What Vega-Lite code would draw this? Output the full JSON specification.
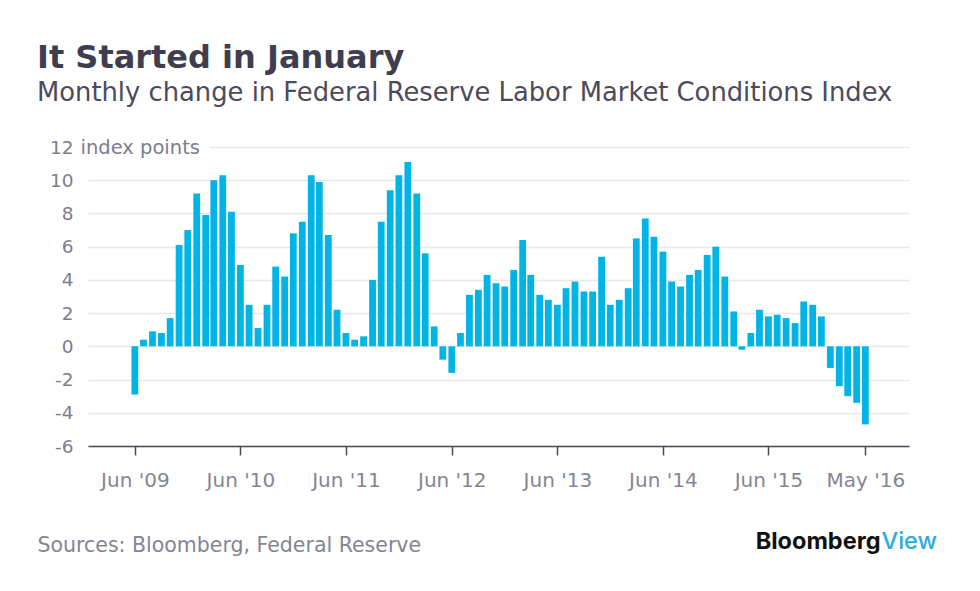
{
  "$schema": "https://vega.github.io/schema/vega-lite/v6.json",
  "width": 821,
  "height": 299,
  "autosize": {"type": "none"},
  "padding": {"left": 88, "top": 147, "right": 71, "bottom": 145},
  "background": "white",
  "config": {"view": {"stroke": null}},
  "title": {
    "text": "It Started in January",
    "subtitle": "Monthly change in Federal Reserve Labor Market Conditions Index",
    "anchor": "start",
    "frame": "group",
    "dx": -51,
    "offset": 30,
    "font": "DejaVu Sans",
    "fontSize": 32,
    "fontWeight": 700,
    "color": "#3e3e4e",
    "subtitleFont": "DejaVu Sans",
    "subtitleFontSize": 25.8,
    "subtitleColor": "#4b4b5b",
    "subtitlePadding": 6
  },
  "data": {"values": [
    {"month": "2009/06/01", "value": -2.9},
    {"month": "2009/07/01", "value": 0.4},
    {"month": "2009/08/01", "value": 0.9},
    {"month": "2009/09/01", "value": 0.8},
    {"month": "2009/10/01", "value": 1.7},
    {"month": "2009/11/01", "value": 6.1},
    {"month": "2009/12/01", "value": 7.0},
    {"month": "2010/01/01", "value": 9.2},
    {"month": "2010/02/01", "value": 7.9},
    {"month": "2010/03/01", "value": 10.0},
    {"month": "2010/04/01", "value": 10.3},
    {"month": "2010/05/01", "value": 8.1},
    {"month": "2010/06/01", "value": 4.9},
    {"month": "2010/07/01", "value": 2.5},
    {"month": "2010/08/01", "value": 1.1},
    {"month": "2010/09/01", "value": 2.5},
    {"month": "2010/10/01", "value": 4.8},
    {"month": "2010/11/01", "value": 4.2},
    {"month": "2010/12/01", "value": 6.8},
    {"month": "2011/01/01", "value": 7.5},
    {"month": "2011/02/01", "value": 10.3},
    {"month": "2011/03/01", "value": 9.9},
    {"month": "2011/04/01", "value": 6.7},
    {"month": "2011/05/01", "value": 2.2},
    {"month": "2011/06/01", "value": 0.8},
    {"month": "2011/07/01", "value": 0.4},
    {"month": "2011/08/01", "value": 0.6},
    {"month": "2011/09/01", "value": 4.0},
    {"month": "2011/10/01", "value": 7.5},
    {"month": "2011/11/01", "value": 9.4},
    {"month": "2011/12/01", "value": 10.3},
    {"month": "2012/01/01", "value": 11.1},
    {"month": "2012/02/01", "value": 9.2},
    {"month": "2012/03/01", "value": 5.6},
    {"month": "2012/04/01", "value": 1.2},
    {"month": "2012/05/01", "value": -0.8},
    {"month": "2012/06/01", "value": -1.6},
    {"month": "2012/07/01", "value": 0.8},
    {"month": "2012/08/01", "value": 3.1},
    {"month": "2012/09/01", "value": 3.4},
    {"month": "2012/10/01", "value": 4.3},
    {"month": "2012/11/01", "value": 3.8},
    {"month": "2012/12/01", "value": 3.6},
    {"month": "2013/01/01", "value": 4.6},
    {"month": "2013/02/01", "value": 6.4},
    {"month": "2013/03/01", "value": 4.3},
    {"month": "2013/04/01", "value": 3.1},
    {"month": "2013/05/01", "value": 2.8},
    {"month": "2013/06/01", "value": 2.5},
    {"month": "2013/07/01", "value": 3.5},
    {"month": "2013/08/01", "value": 3.9},
    {"month": "2013/09/01", "value": 3.3},
    {"month": "2013/10/01", "value": 3.3},
    {"month": "2013/11/01", "value": 5.4},
    {"month": "2013/12/01", "value": 2.5},
    {"month": "2014/01/01", "value": 2.8},
    {"month": "2014/02/01", "value": 3.5},
    {"month": "2014/03/01", "value": 6.5},
    {"month": "2014/04/01", "value": 7.7},
    {"month": "2014/05/01", "value": 6.6},
    {"month": "2014/06/01", "value": 5.7},
    {"month": "2014/07/01", "value": 3.9},
    {"month": "2014/08/01", "value": 3.6},
    {"month": "2014/09/01", "value": 4.3},
    {"month": "2014/10/01", "value": 4.6},
    {"month": "2014/11/01", "value": 5.5},
    {"month": "2014/12/01", "value": 6.0},
    {"month": "2015/01/01", "value": 4.2},
    {"month": "2015/02/01", "value": 2.1},
    {"month": "2015/03/01", "value": -0.2},
    {"month": "2015/04/01", "value": 0.8},
    {"month": "2015/05/01", "value": 2.2},
    {"month": "2015/06/01", "value": 1.8},
    {"month": "2015/07/01", "value": 1.9},
    {"month": "2015/08/01", "value": 1.7},
    {"month": "2015/09/01", "value": 1.4},
    {"month": "2015/10/01", "value": 2.7},
    {"month": "2015/11/01", "value": 2.5},
    {"month": "2015/12/01", "value": 1.8},
    {"month": "2016/01/01", "value": -1.3},
    {"month": "2016/02/01", "value": -2.4},
    {"month": "2016/03/01", "value": -3.0},
    {"month": "2016/04/01", "value": -3.4},
    {"month": "2016/05/01", "value": -4.7}
  ]},
  "layer": [
    {
      "mark": {"type": "bar", "width": 6.8, "color": "#00b4e6"},
      "encoding": {
        "x": {
          "field": "month",
          "type": "temporal",
          "scale": {"domain": [{"year": 2008, "month": 12, "date": 21}, {"year": 2016, "month": 9, "date": 29}], "padding": 0},
          "axis": {
            "values": [
              {"year": 2009, "month": 6, "date": 1},
              {"year": 2010, "month": 6, "date": 1},
              {"year": 2011, "month": 6, "date": 1},
              {"year": 2012, "month": 6, "date": 1},
              {"year": 2013, "month": 6, "date": 1},
              {"year": 2014, "month": 6, "date": 1},
              {"year": 2015, "month": 6, "date": 1},
              {"year": 2016, "month": 5, "date": 1}
            ],
            "labelExpr": "timeFormat(datum.value, \"%b '%y\")",
            "labelFlush": false,
            "labelFont": "DejaVu Sans",
            "labelFontSize": 20,
            "labelColor": "#858595",
            "labelPadding": 15,
            "tickSize": 9,
            "tickColor": "#4a4a5a",
            "tickWidth": 1.5,
            "domainColor": "#4a4a5a",
            "domainWidth": 1.5,
            "grid": false,
            "title": "Sources: Bloomberg, Federal Reserve",
            "titleX": -51,
            "titleY": 105,
            "titleAlign": "left",
            "titleBaseline": "alphabetic",
            "titleFont": "DejaVu Sans",
            "titleFontSize": 20.5,
            "titleFontWeight": 400,
            "titleColor": "#858595"
          }
        },
        "y": {
          "field": "value",
          "type": "quantitative",
          "scale": {"domain": [-6, 12], "nice": false, "padding": 0},
          "axis": {
            "values": [-6, -4, -2, 0, 2, 4, 6, 8, 10, 12],
            "labelExpr": "replace(datum.label, '\u2212', '-')",
            "labelFont": "DejaVu Sans",
            "labelFontSize": 18.5,
            "labelColor": "#7d7d8d",
            "labelPadding": 15,
            "labelAlign": "right",
            "labelBaseline": "middle",
            "ticks": false,
            "domain": false,
            "grid": true,
            "gridColor": "#e8e8ec",
            "gridWidth": 1.5,
            "gridDash": {"condition": {"test": "datum.value === 12", "value": [0, 121, 1000]}, "value": []},
            "title": "index points",
            "titleAngle": 0,
            "titleAlign": "left",
            "titleBaseline": "middle",
            "titleX": -8,
            "titleY": 0,
            "titleFont": "DejaVu Sans",
            "titleFontSize": 19.5,
            "titleFontWeight": 400,
            "titleColor": "#7d7d8d"
          }
        }
      }
    },
    {
      "mark": {"type": "bar", "opacity": 0},
      "encoding": {
        "x": {
          "field": "month",
          "type": "temporal",
          "axis": {
            "orient": "top",
            "labels": false,
            "ticks": false,
            "domain": false,
            "grid": false,
            "title": "Bloomberg",
            "titleX": 792,
            "titleY": 401,
            "titleAlign": "right",
            "titleBaseline": "alphabetic",
            "titleFont": "Inter",
            "titleFontSize": 23.5,
            "titleFontWeight": 700,
            "titleColor": "#111111"
          }
        },
        "y": {
          "field": "value",
          "type": "quantitative",
          "axis": {
            "orient": "right",
            "labels": false,
            "ticks": false,
            "domain": false,
            "grid": false,
            "title": "View",
            "titleAngle": 0,
            "titleX": -28,
            "titleY": 401,
            "titleAlign": "left",
            "titleBaseline": "alphabetic",
            "titleFont": "Inter",
            "titleFontSize": 23.5,
            "titleFontWeight": 500,
            "titleColor": "#29abe2"
          }
        }
      }
    }
  ],
  "resolve": {"scale": {"x": "independent", "y": "independent"}}
}
